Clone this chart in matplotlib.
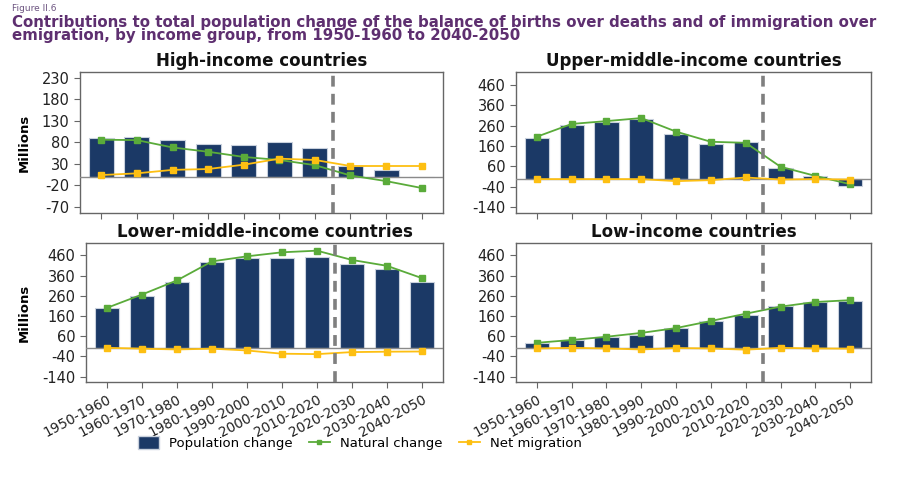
import matplotlib
matplotlib.use("Agg")
import matplotlib.pyplot as plt
from matplotlib.patches import Patch
from matplotlib.lines import Line2D

plt.rcParams["font.family"] = ["DejaVu Sans"]
plt.rcParams["axes.unicode_minus"] = False

# ------------------------------------------------------------
# data (millions)
# ------------------------------------------------------------
periods = ["1950-1960", "1960-1970", "1970-1980", "1980-1990", "1990-2000",
           "2000-2010", "2010-2020", "2020-2030", "2030-2040", "2040-2050"]

high_pop = [89, 92, 85, 75, 74, 81, 66, 26, 15, -1]
high_nat = [86, 85, 68, 58, 46, 39, 27, 3, -10, -26]
high_mig = [4, 8, 16, 18, 28, 42, 39, 25, 25, 25]

upper_pop = [201, 264, 279, 295, 221, 171, 181, 53, 10, -35]
upper_nat = [206, 269, 283, 298, 231, 181, 176, 58, 13, -28]
upper_mig = [-3, -3, -3, -3, -13, -8, 5, -5, -3, -5]

lower_pop = [200, 261, 327, 425, 445, 445, 452, 415, 394, 329]
lower_nat = [200, 266, 336, 430, 455, 475, 483, 437, 408, 347]
lower_mig = [2, -2, -6, -2, -11, -27, -29, -19, -17, -16]

low_pop = [27, 42, 54, 67, 98, 133, 165, 208, 228, 236]
low_nat = [27, 41, 57, 76, 100, 135, 171, 206, 229, 238]
low_mig = [-1, 2, -1, -6, 1, -1, -7, 2, -1, -2]

ticks_high = [-70, -20, 30, 80, 130, 180, 230]
ticks_other = [-140, -40, 60, 160, 260, 360, 460]

NAVY = "#1b3966"
GREEN = "#5aab3a"
YELLOW = "#fdbf12"
PURPLE = "#5e2f70"
SPINE = "#666666"

W, H = 908, 478
fig = plt.figure(figsize=(W / 100, H / 100), dpi=100)


def box(x0, y0, x1, y1):
    return [x0 / W, 1 - y1 / H, (x1 - x0) / W, (y1 - y0) / H]


panels = [
    ("High-income countries", high_pop, high_nat, high_mig, ticks_high, (-84, 243),
     box(80, 72, 443, 213), True, False),
    ("Upper-middle-income countries", upper_pop, upper_nat, upper_mig, ticks_other, (-170, 525),
     box(516, 72, 871, 213), False, False),
    ("Lower-middle-income countries", lower_pop, lower_nat, lower_mig, ticks_other, (-167, 521),
     box(86, 243, 443, 382), True, True),
    ("Low-income countries", low_pop, low_nat, low_mig, ticks_other, (-167, 521),
     box(516, 243, 871, 382), False, True),
]

x = list(range(len(periods)))

for title, pop, nat, mig, yt, ylim, rect, ylab, xlab in panels:
    ax = fig.add_axes(rect)
    ax.bar(x, pop, width=0.7, color=NAVY, edgecolor="#c9d1dd", linewidth=0.8, zorder=2)
    ax.axhline(0, color="#8a8a8a", lw=1.0, zorder=3)
    ax.plot(x, nat, color=GREEN, lw=1.3, marker="s", ms=4, zorder=4)
    ax.plot(x, mig, color=YELLOW, lw=1.3, marker="s", ms=4, zorder=4)
    ax.axvline(6.5, color="#7f7f7f", lw=2.6, ls=(0, (3, 2)), zorder=5)

    ax.set_xlim(-0.6, 9.6)
    ax.set_ylim(*ylim)
    ax.set_yticks(yt)
    ax.set_xticks(x)
    ax.tick_params(axis="both", colors="#222222", labelsize=10.5, length=4,
                   width=0.8, color=SPINE)
    if xlab:
        ax.set_xticklabels(periods, rotation=28, ha="right", va="top",
                           rotation_mode="anchor", fontsize=9.8)
    else:
        ax.set_xticklabels([])
    if ylab:
        ax.set_ylabel("Millions", fontweight="bold", fontsize=9.5, labelpad=8)
    for s in ax.spines.values():
        s.set_color(SPINE)
        s.set_linewidth(1.0)
    ax.set_title(title, fontsize=12, fontweight="bold", pad=4, color="#111111")

# titles
fig.text(12 / W, 1 - 4 / H, "Figure II.6", fontsize=6.5, color="#6c5480",
         ha="left", va="top")
fig.text(12 / W, 1 - 15 / H,
         "Contributions to total population change of the balance of births over deaths and of immigration over\n"
         "emigration, by income group, from 1950-1960 to 2040-2050",
         fontsize=10.8, fontweight="bold", color=PURPLE, ha="left", va="top",
         linespacing=0.85)

# legend
handles = [
    Patch(facecolor=NAVY, edgecolor="#c9d1dd", label="Population change"),
    Line2D([], [], color=GREEN, lw=1.3, marker="s", ms=3, label="Natural change"),
    Line2D([], [], color=YELLOW, lw=1.3, marker="s", ms=3, label="Net migration"),
]
fig.legend(handles=handles, ncol=3, loc="center", bbox_to_anchor=(360 / W, 1 - 443 / H),
           frameon=False, fontsize=9.5, handlelength=1.6, handleheight=1.1,
           columnspacing=1.2, handletextpad=0.8)

fig.savefig("out.png", dpi=100)
